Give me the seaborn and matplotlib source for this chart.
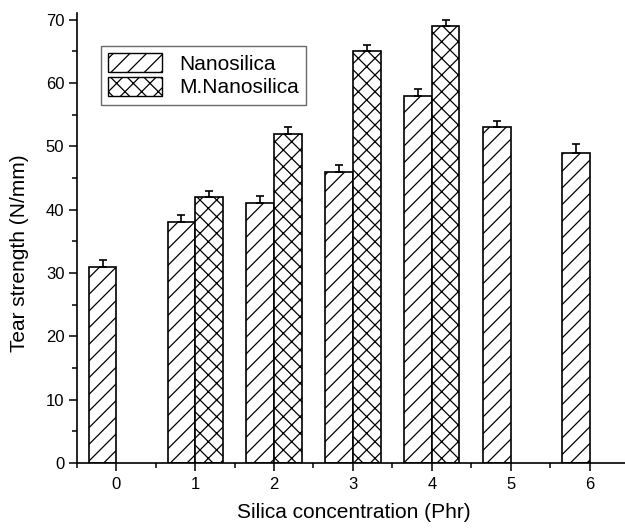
import matplotlib
matplotlib.use("Agg")
import matplotlib.pyplot as plt
import seaborn as sns
import pandas as pd
import numpy as np
from matplotlib.ticker import MultipleLocator
from matplotlib.patches import Patch

concentration = [0, 1, 2, 3, 4, 5, 6]
nano = [31, 38, 41, 46, 58, 53, 49]
nano_err = [1.0, 1.2, 1.2, 1.0, 1.1, 1.0, 1.3]
m_conc = [1, 2, 3, 4]
m_nano = [42, 52, 65, 69]
m_err = [1.0, 1.1, 1.0, 1.0]
series = ["Nanosilica", "M.Nanosilica"]

rows = []
for c, v, e in zip(concentration, nano, nano_err):
    rows.append({"conc": c, "val": v, "err": e, "series": series[0]})
for c, v, e in zip(m_conc, m_nano, m_err):
    rows.append({"conc": c, "val": v, "err": e, "series": series[1]})
df = pd.DataFrame(rows)

sns.set_theme(style="ticks")
plt.rcParams["font.family"] = ["Liberation Sans", "DejaVu Sans"]
plt.rcParams["hatch.linewidth"] = 0.9
plt.rcParams["hatch.color"] = "black"
plt.rcParams["text.color"] = "black"
plt.rcParams["axes.labelcolor"] = "black"
plt.rcParams["xtick.color"] = "black"
plt.rcParams["ytick.color"] = "black"

fig = plt.figure(figsize=(6.25, 5.29), dpi=100)
ax = fig.add_axes([0.123, 0.125, 0.877, 0.85])

sns.barplot(data=df, x="conc", y="val", hue="series", hue_order=series,
            order=concentration, dodge=True, width=0.7, errorbar=None,
            palette=["white", "white"], edgecolor="black",
            linewidth=1.2, ax=ax, legend=False)

hatches = {series[0]: "//", series[1]: "xx"}
for cont, s in zip(ax.containers, series):
    sub = df[df.series == s]
    xs, ys, es = [], [], []
    for bar in cont.patches:
        bar.set_hatch(hatches[s])
        h = bar.get_height()
        if np.isnan(h) or h == 0:
            continue
        cx = bar.get_x() + bar.get_width() / 2
        match = sub[sub.val == h]
        xs.append(cx); ys.append(h); es.append(match.err.iloc[0])
    ax.errorbar(xs, ys, yerr=[np.zeros(len(es)), es], fmt="none",
                ecolor="black", elinewidth=1.2, capsize=3, capthick=1.2)

ax.set_xlim(-0.5, 6.45)
ax.set_ylim(0, 71)
ax.yaxis.set_major_locator(MultipleLocator(10))
ax.yaxis.set_minor_locator(MultipleLocator(5))
ax.xaxis.set_minor_locator(MultipleLocator(0.5))
ax.tick_params(which="major", direction="out", length=5.5, width=1.1, labelsize=12,
               color="black", labelcolor="black")
ax.tick_params(which="minor", direction="out", length=3.5, width=1.1, color="black")
ax.tick_params(axis="x", which="major", pad=5)
for sp in ["top", "right"]:
    ax.spines[sp].set_visible(False)
for sp in ["left", "bottom"]:
    ax.spines[sp].set_color("black")
    ax.spines[sp].set_linewidth(1.2)

ax.set_xlabel("Silica concentration (Phr)", fontsize=15, color="black")
ax.set_ylabel("Tear strength (N/mm)", fontsize=15, color="black")
ax.xaxis.set_label_coords(0.506, -0.09)
ax.yaxis.set_label_coords(-0.088, 0.467)

handles = [Patch(facecolor="white", edgecolor="black", hatch=hatches[s], linewidth=1) for s in series]
leg = ax.legend(handles, series, loc="upper left", bbox_to_anchor=(0.044, 0.927),
                borderaxespad=0, fontsize=15, frameon=True, fancybox=False,
                edgecolor="#444444", handlelength=2.6, handleheight=1.0,
                handletextpad=0.8, borderpad=0.35, labelspacing=0.15)
leg.get_frame().set_linewidth(1.0)
for t in leg.get_texts():
    t.set_color("black")

fig.savefig("out.png", dpi=100)
